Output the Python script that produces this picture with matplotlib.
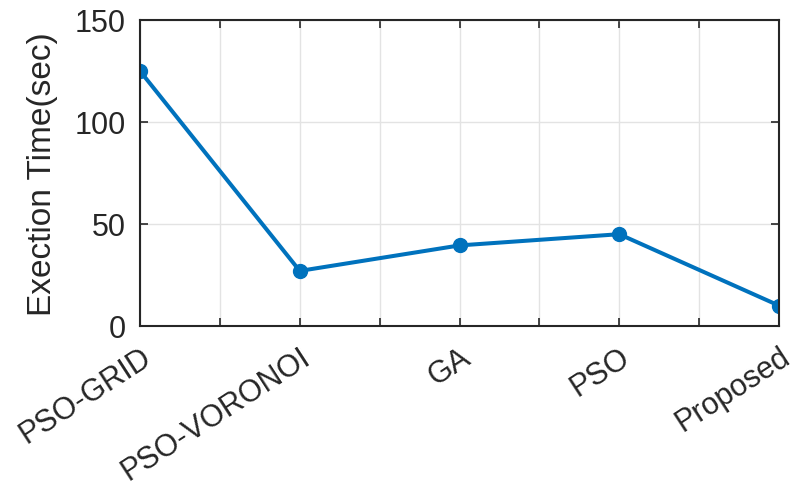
import matplotlib
matplotlib.use('Agg')
import matplotlib.pyplot as plt
import numpy as np

methods = ['PSO-GRID', 'PSO-VORONOI', 'GA', 'PSO', 'Proposed']
exec_time = [125, 27, 39.5, 45, 10]

plt.rcParams['font.family'] = ['Liberation Sans', 'DejaVu Sans']

fig = plt.figure(figsize=(7.98, 4.89), dpi=100)
ax = fig.add_axes([140/798, 1-327/489, 639/798, 306/489])

x = np.arange(1, len(methods)+1)
ax.plot(x, exec_time, color='#0072BD', linewidth=2.9, marker='o', markersize=10)

ax.set_xlim(1, 5)
ax.set_ylim(0, 150)
xt = np.arange(1, 5.01, 0.5)
ax.set_xticks(xt)
labels = []
for v in xt:
    labels.append(methods[int(v)-1] if v == int(v) else '')
ax.set_xticklabels(labels, rotation=33, ha='right', va='top', rotation_mode='anchor')
ax.set_yticks([0, 50, 100, 150])

ax.grid(True, color='#e3e3e3', linewidth=1)
ax.set_axisbelow(True)
for s in ax.spines.values():
    s.set_color('#262626')
    s.set_linewidth(1.5)
ax.tick_params(direction='in', top=True, right=True, length=6, width=1.2,
               color='#262626', labelcolor='#262626', labelsize=22)
ax.tick_params(axis='x', pad=11)
ax.tick_params(axis='y', pad=10)
ax.set_ylabel('Exection Time(sec)', fontsize=24, color='#262626', labelpad=12)

plt.savefig('out.png', dpi=100)
